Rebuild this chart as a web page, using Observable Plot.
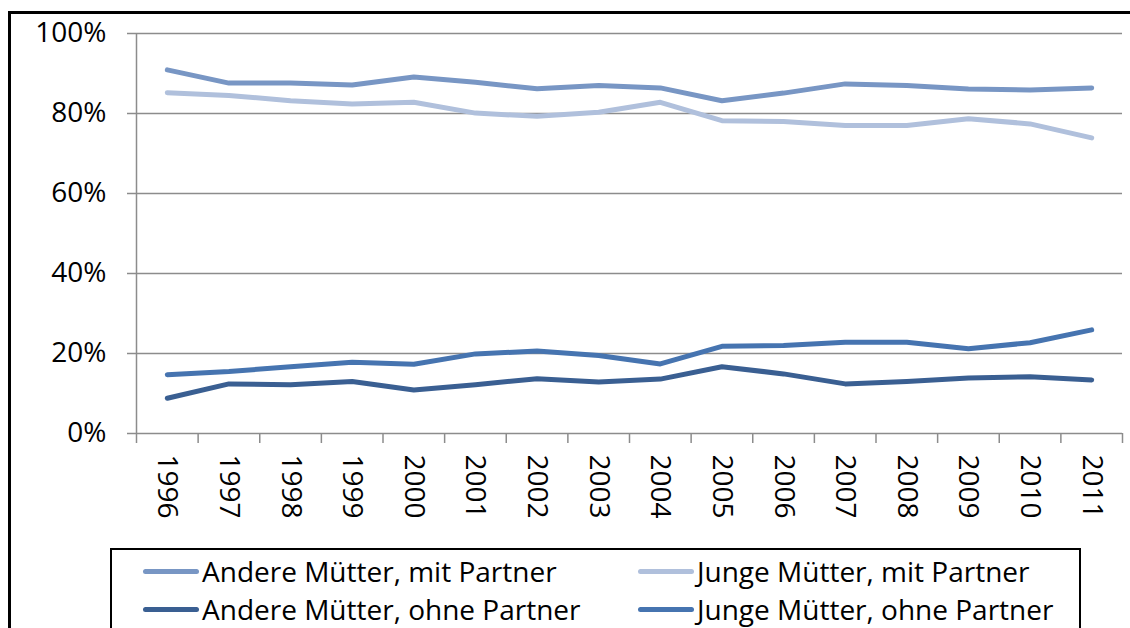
<!DOCTYPE html>
<html>
<head>
<meta charset="utf-8">
<script src="https://cdn.jsdelivr.net/npm/d3@7"></script>
<script src="https://cdn.jsdelivr.net/npm/@observablehq/plot@0.6"></script>
<style>
  html, body { margin: 0; padding: 0; background: #fff; }
  #wrap { position: relative; width: 1130px; height: 628px; overflow: hidden; background: #fff; font-family: "Open Sans", sans-serif; }
  #frame { position: absolute; left: 8px; top: 11px; width: 1122px; height: 617px; border-top: 3px solid #000; border-left: 3px solid #000; box-sizing: border-box; }
  #chart { position: absolute; left: 0; top: 0; }
  #legend { position: absolute; left: 110px; top: 548px; width: 971px; height: 80px; border: 2px solid #000; border-bottom: none; box-sizing: border-box; background: #fff; }
  .item { position: absolute; display: flex; align-items: center; font-size: 28px; color: #000; white-space: nowrap; line-height: 1; height: 28px; }
  .swatch { width: 56px; height: 5px; border-radius: 3px; margin-right: 3px; }
</style>
</head>
<body>
<div id="wrap">
  <div id="frame"></div>
  <div id="chart"></div>
  <div id="legend"></div>
</div>
<script>
const years = [1996, 1997, 1998, 1999, 2000, 2001, 2002, 2003, 2004, 2005, 2006, 2007, 2008, 2009, 2010, 2011];
const seriesNames = ["Andere Mütter, mit Partner", "Junge Mütter, mit Partner", "Andere Mütter, ohne Partner", "Junge Mütter, ohne Partner"];
const andereMit   = [90.9, 87.6, 87.6, 87.1, 89.1, 87.8, 86.2, 87.0, 86.4, 83.2, 85.1, 87.4, 87.0, 86.1, 85.9, 86.4];
const jungeMit    = [85.2, 84.5, 83.2, 82.4, 82.8, 80.1, 79.3, 80.3, 82.8, 78.2, 78.0, 77.0, 77.0, 78.7, 77.4, 73.9];
const andereOhne  = [8.8, 12.4, 12.2, 13.0, 10.9, 12.2, 13.7, 12.9, 13.6, 16.7, 14.9, 12.4, 13.0, 13.9, 14.2, 13.4];
const jungeOhne   = [14.7, 15.5, 16.7, 17.8, 17.3, 19.9, 20.6, 19.5, 17.4, 21.8, 22.0, 22.8, 22.8, 21.2, 22.7, 25.9];
const yTicks = [0, 20, 40, 60, 80, 100];
const colors = ["#7896C4", "#B0C0DC", "#3A5F92", "#4674B0"];

const valueArrays = [andereMit, jungeMit, andereOhne, jungeOhne];
const data = [];
seriesNames.forEach((s, k) => years.forEach((yr, i) => data.push({series: s, year: yr, value: valueArrays[k][i]})));
const boundaries = years.map(y => y - 0.5).concat([years[years.length - 1] + 0.5]);

const grid = "#8C8C8C";
const font = "Open Sans";

const chart = Plot.plot({
  width: 1130,
  height: 545,
  marginLeft: 136,
  marginRight: 8,
  marginTop: 33,
  marginBottom: 112,
  style: {fontFamily: font, fontSize: "28px", color: "#000", background: "transparent"},
  x: {type: "linear", domain: [boundaries[0], boundaries[boundaries.length - 1]], axis: null},
  y: {domain: [0, 100], axis: null},
  color: {domain: seriesNames, range: colors},
  marks: [
    Plot.ruleY(yTicks, {y: d => d, stroke: grid, strokeWidth: 1.5, insetLeft: -9}),
    Plot.ruleX([boundaries[0]], {x: d => d, y1: 0, y2: 100, stroke: grid, strokeWidth: 1.5}),
    Plot.ruleX(boundaries, {x: d => d, y1: 0, y2: -2.5, stroke: grid, strokeWidth: 1.5}),
    Plot.text(yTicks, {x: boundaries[0], y: d => d, text: d => d + "%", textAnchor: "end", dx: -30, fontSize: 28, fontFamily: font, fill: "#000"}),
    Plot.text(years, {x: d => d, y: 0, dy: 21, rotate: 90, textAnchor: "start", text: d => String(d), fontSize: 28, fontFamily: font, fill: "#000"}),
    Plot.line(data, {x: "year", y: "value", z: "series", stroke: "series", strokeWidth: 5, strokeLinecap: "round", strokeLinejoin: "round"})
  ]
});
document.getElementById("chart").appendChild(chart);

const legend = document.getElementById("legend");
const pos = [[31, 21], [526, 21], [31, 59], [526, 59]];
seriesNames.forEach((s, k) => {
  const item = document.createElement("div");
  item.className = "item";
  item.style.left = pos[k][0] + "px";
  item.style.top = (pos[k][1] - 14) + "px";
  const sw = document.createElement("div");
  sw.className = "swatch";
  sw.style.background = colors[k];
  const label = document.createElement("span");
  label.textContent = s;
  item.appendChild(sw);
  item.appendChild(label);
  legend.appendChild(item);
});
</script>
</body>
</html>
